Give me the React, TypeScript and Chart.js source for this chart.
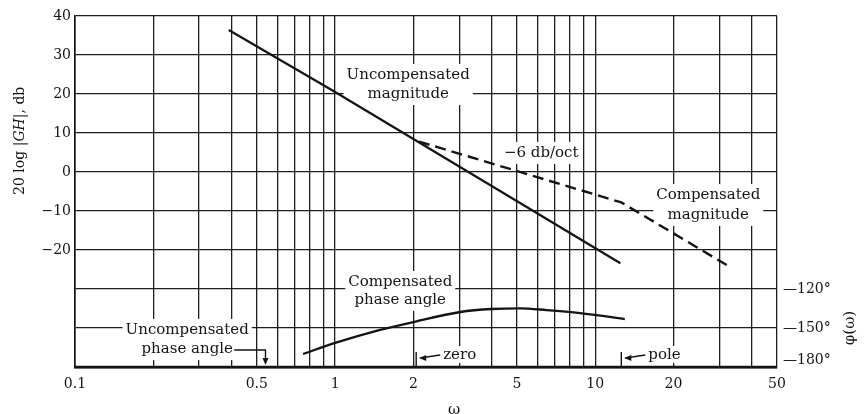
import React, { useEffect, useRef } from "react";
import { Chart, registerables } from "chart.js";

Chart.register(...registerables);

// ---- data ----
const xGridValues = [
  0.1, 0.2, 0.3, 0.4, 0.5, 0.6, 0.7, 0.8, 0.9,
  1, 2, 3, 4, 5, 6, 7, 8, 9,
  10, 20, 30, 40, 50,
];
const xTickLabels = [0.1, 0.5, 1, 2, 5, 10, 20, 50];
const magGridValues = [-50, -40, -30, -20, -10, 0, 10, 20, 30, 40];
const magTickLabels = [40, 30, 20, 10, 0, -10, -20];
const phaseTickLabels = [-120, -150, -180];

const uncompMagW = [0.39, 1, 12.5];
const uncompMagDb = [36.4, 20.5, -23.4];

const compMagW = [2.1, 12.6, 32.5];
const compMagDb = [7.8, -7.8, -24.1];

const compPhaseW = [0.753, 1.0, 1.49, 2.0, 3.03, 4.0, 5.15, 6.5, 8.75, 13.0];
const compPhaseDeg = [-170, -161.5, -151.5, -145.4, -137.7, -135.4, -134.9, -136.2, -138.5, -143.1];

const uncompPhaseW = [0.1, 50];
const uncompPhaseDeg = [-180, -180];

const zeroW = 2.05;
const poleW = 12.6;
const uncompPhaseArrowW = 0.54;

// text annotations: lines, anchor w, per-line dB
const noteLines = [
  ["Uncompensated", "magnitude"],
  ["\u22126 db/oct"],
  ["Compensated", "magnitude"],
  ["Compensated", "phase angle"],
  ["Uncompensated", "phase angle"],
];
const noteW = [1.91, 6.2, 27.2, 1.78, 0.27];
const noteDb = [[24.9, 20.0], [4.9], [-5.9, -11.0], [-28.2, -32.8], [-40.5, -45.4]];

const serif = '"DejaVu Serif", "Liberation Serif", serif';
const ink = "#141414";

const fmtMinus = (v: number) => (v < 0 ? "\u2212" + Math.abs(v) : String(v));

function arrowHead(ctx: CanvasRenderingContext2D, x: number, y: number, dir: "left" | "down") {
  ctx.beginPath();
  if (dir === "left") {
    ctx.moveTo(x, y);
    ctx.lineTo(x + 7, y - 3);
    ctx.lineTo(x + 7, y + 3);
  } else {
    ctx.moveTo(x, y);
    ctx.lineTo(x - 3, y - 7);
    ctx.lineTo(x + 3, y - 7);
  }
  ctx.closePath();
  ctx.fill();
}

const annotationPlugin = {
  id: "annotationPlugin",
  beforeDatasetsDraw(chart: any) {
    const { ctx, scales } = chart;
    const x = scales.x;
    const y = scales.y;
    ctx.save();
    ctx.font = "15px " + serif;
    ctx.textAlign = "center";
    ctx.textBaseline = "middle";
    noteLines.forEach((lines, i) => {
      const cx = x.getPixelForValue(noteW[i]);
      const ys = noteDb[i].map((d) => y.getPixelForValue(d));
      const wmax = Math.max(...lines.map((l) => ctx.measureText(l).width));
      ctx.fillStyle = "#ffffff";
      ctx.fillRect(cx - wmax / 2 - 3, ys[0] - 11, wmax + 6, ys[ys.length - 1] - ys[0] + 22);
      ctx.fillStyle = ink;
      lines.forEach((l, k) => ctx.fillText(l, cx, ys[k]));
    });
    // zero / pole text boxes
    const yBottom = y.getPixelForValue(-50);
    const items: [string, number][] = [["zero", zeroW], ["pole", poleW]];
    items.forEach(([t, w]) => {
      const px = x.getPixelForValue(w);
      const tw = ctx.measureText(t).width;
      const tx = px + 27 + tw / 2;
      const ty = yBottom - 12;
      ctx.fillStyle = "#ffffff";
      ctx.fillRect(px + 2, ty - 9, tw + 30, 17);
      ctx.fillStyle = ink;
      ctx.fillText(t, tx, ty);
    });
    ctx.restore();
  },
  afterDatasetsDraw(chart: any) {
    const { ctx, scales, chartArea } = chart;
    const x = scales.x;
    const y = scales.y;
    const y2 = scales.y2;
    const yBottom = y.getPixelForValue(-50);
    ctx.save();
    ctx.strokeStyle = ink;
    ctx.fillStyle = ink;
    ctx.lineWidth = 1.4;
    // zero / pole ticks and arrows
    [zeroW, poleW].forEach((w) => {
      const px = x.getPixelForValue(w);
      ctx.beginPath();
      ctx.moveTo(px, yBottom);
      ctx.lineTo(px, yBottom - 15);
      ctx.stroke();
      ctx.beginPath();
      ctx.moveTo(px + 4, yBottom - 9);
      ctx.lineTo(px + 24, yBottom - 12);
      ctx.stroke();
      arrowHead(ctx, px + 3, yBottom - 9, "left");
    });
    // uncompensated phase angle leader
    const ax = x.getPixelForValue(uncompPhaseArrowW);
    const ly = y.getPixelForValue(noteDb[4][1]);
    ctx.beginPath();
    ctx.moveTo(x.getPixelForValue(noteW[4]) + 47, ly + 1);
    ctx.lineTo(ax, ly + 1);
    ctx.lineTo(ax, yBottom - 6);
    ctx.stroke();
    arrowHead(ctx, ax, yBottom - 2, "down");

    // right-hand phase labels
    ctx.font = "14px " + serif;
    ctx.textAlign = "left";
    ctx.textBaseline = "middle";
    phaseTickLabels.forEach((v) => {
      let py = y2.getPixelForValue(v);
      if (v === -180) py -= 7;
      ctx.fillText("\u2014" + Math.abs(v) + "\u00b0", chartArea.right + 6, py);
    });

    // axis titles
    ctx.font = "15px " + serif;
    ctx.textAlign = "center";
    ctx.fillText("\u03c9", (chartArea.left + chartArea.right) / 2 + 28, chart.height - 4);

    ctx.save();
    ctx.translate(850, y2.getPixelForValue(-150));
    ctx.rotate(-Math.PI / 2);
    ctx.fillText("\u03c6(\u03c9)", 0, 0);
    ctx.restore();

    ctx.save();
    ctx.translate(20, y.getPixelForValue(8));
    ctx.rotate(-Math.PI / 2);
    const parts: [string, boolean][] = [["20 log |", false], ["GH", true], ["|, db", false]];
    let total = 0;
    parts.forEach(([t, it]) => {
      ctx.font = (it ? "italic " : "") + "14px " + serif;
      total += ctx.measureText(t).width;
    });
    let cur = -total / 2;
    ctx.textAlign = "left";
    parts.forEach(([t, it]) => {
      ctx.font = (it ? "italic " : "") + "14px " + serif;
      ctx.fillText(t, cur, 0);
      cur += ctx.measureText(t).width;
    });
    ctx.restore();

    ctx.restore();
  },
};

export default function App() {
  const ref = useRef<HTMLCanvasElement | null>(null);

  useEffect(() => {
    document.body.style.margin = "0";
    const canvas = ref.current;
    if (!canvas) return;
    const toPts = (xs: number[], ys: number[]) => xs.map((v, i) => ({ x: v, y: ys[i] }));
    const chart = new Chart(canvas, {
      type: "line",
      data: {
        datasets: [
          {
            label: "Uncompensated magnitude",
            data: toPts(uncompMagW, uncompMagDb),
            borderColor: ink,
            borderWidth: 2.2,
            pointRadius: 0,
            yAxisID: "y",
          },
          {
            label: "Compensated magnitude",
            data: toPts(compMagW, compMagDb),
            borderColor: ink,
            borderWidth: 2.4,
            borderDash: [11, 6],
            pointRadius: 0,
            yAxisID: "y",
          },
          {
            label: "Compensated phase angle",
            data: toPts(compPhaseW, compPhaseDeg),
            borderColor: ink,
            borderWidth: 2.3,
            pointRadius: 0,
            cubicInterpolationMode: "monotone",
            yAxisID: "y2",
          },
          {
            label: "Uncompensated phase angle",
            data: toPts(uncompPhaseW, uncompPhaseDeg),
            borderColor: ink,
            borderWidth: 2.5,
            pointRadius: 0,
            yAxisID: "y2",
            clip: 4,
          } as any,
        ],
      },
      options: {
        responsive: false,
        animation: false,
        events: [],
        layout: { padding: { top: 16, right: 88, left: 0, bottom: 0 } },
        plugins: { legend: { display: false }, tooltip: { enabled: false }, title: { display: false } },
        scales: {
          x: {
            type: "logarithmic",
            min: 0.1,
            max: 50,
            afterBuildTicks: (s: any) => {
              s.ticks = xGridValues.map((v) => ({ value: v }));
            },
            afterFit: (s: any) => {
              s.height = 47;
            },
            ticks: {
              autoSkip: false,
              maxRotation: 0,
              padding: 9,
              color: ink,
              font: { family: serif, size: 14 },
              callback: (v: any) => (xTickLabels.includes(Number(v)) ? String(v) : ""),
            },
            grid: { color: "#1e1e1e", lineWidth: 1.3, drawTicks: false },
            border: { display: true, color: ink, width: 2.5 },
          },
          y: {
            type: "linear",
            min: -50,
            max: 40,
            afterBuildTicks: (s: any) => {
              s.ticks = magGridValues.map((v) => ({ value: v }));
            },
            afterFit: (s: any) => {
              s.width = 75;
            },
            ticks: {
              padding: 4,
              color: ink,
              font: { family: serif, size: 14 },
              callback: (v: any) => (magTickLabels.includes(Number(v)) ? fmtMinus(Number(v)) : ""),
            },
            grid: { color: "#1e1e1e", lineWidth: 1.3, drawTicks: false },
            border: { display: true, color: ink, width: 1.6 },
          },
          y2: {
            type: "linear",
            display: false,
            position: "right",
            min: -180,
            max: 90,
          },
        },
      },
      plugins: [annotationPlugin],
    } as any);
    return () => chart.destroy();
  }, []);

  return (
    <div style={{ width: 865, height: 414, background: "#fff" }}>
      <canvas ref={ref} width={865} height={414} style={{ display: "block" }} />
    </div>
  );
}
